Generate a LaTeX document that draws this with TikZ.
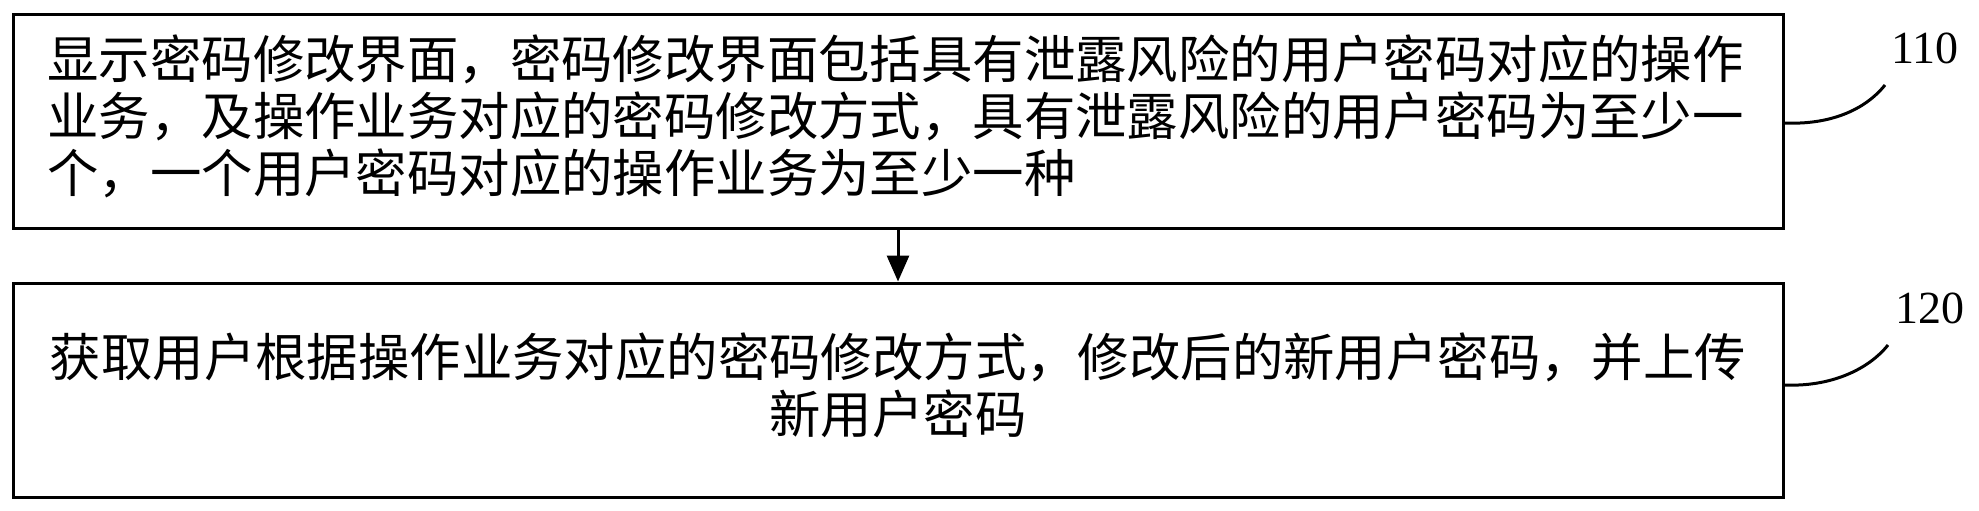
\documentclass[tikz,border=0pt]{standalone}
\usepackage{fontspec}
\newfontfamily\cjk{Noto Sans CJK SC}
\setmainfont{Liberation Serif}
\usetikzlibrary{arrows.meta}
\begin{document}
\begin{tikzpicture}[x=1pt,y=-1pt,
  box/.style={draw,line width=3pt,minimum width=1770pt,inner sep=0pt},
  txt/.style={font=\cjk\fontsize{51.4}{57}\selectfont},
  lbl/.style={font=\fontsize{46}{46}\selectfont},
  lead/.style={line width=3pt}]
\useasboundingbox (0,0) rectangle (1979,511);
\node[box,minimum height=213pt] (b1) at (898,121.5) {};
\node[box,minimum height=214pt] (b2) at (898,390) {};
\node[txt,align=left,anchor=west] (t1) at (44,116) {显示密码修改界面，密码修改界面包括具有泄露风险的用户密码对应的操作\\业务，及操作业务对应的密码修改方式，具有泄露风险的用户密码为至少一\\个，一个用户密码对应的操作业务为至少一种};
\node[txt,align=center] (t2) at (898,385) {获取用户根据操作业务对应的密码修改方式，修改后的新用户密码，并上传\\新用户密码};
\draw[line width=3pt,-{Triangle[length=26pt,width=22pt]}] (b1.south) -- (b2.north);
\node[lbl] (l1) at (1925,48) {110};
\node[lbl] (l2) at (1930,308) {120};
\coordinate (c1) at (1885,85);
\coordinate (c2) at (1888,345);
\draw[lead] (b1.east |- 0,123) .. controls (1830,125) and (1865,110) .. (c1);
\draw[lead] (b2.east |- 0,385) .. controls (1830,387) and (1868,370) .. (c2);
\end{tikzpicture}
\end{document}
